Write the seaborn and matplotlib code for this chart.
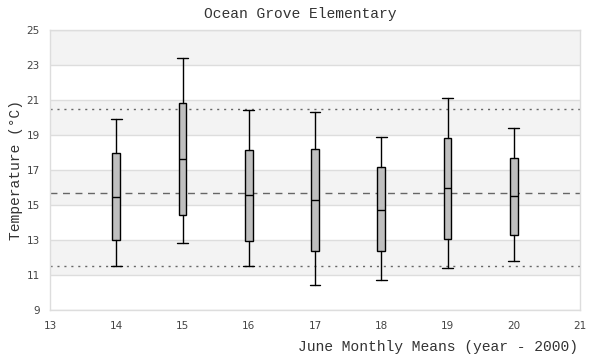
import matplotlib
matplotlib.use("Agg")
import matplotlib.pyplot as plt
import seaborn as sns

# datos
years = [14, 15, 16, 17, 18, 19, 20]
whisker_low = [11.5, 12.83, 11.5, 10.41, 10.7, 11.38, 11.78]
q1 = [13.0, 14.43, 12.94, 12.35, 12.35, 13.04, 13.27]
median = [15.46, 17.63, 15.57, 15.27, 14.73, 15.97, 15.51]
q3 = [17.97, 20.83, 18.14, 18.18, 17.15, 18.81, 17.67]
whisker_high = [19.9, 23.4, 20.43, 20.31, 18.87, 21.1, 19.38]
mean_line = 15.67
upper_line = 20.49
lower_line = 11.5

sns.set_theme(style="white")
plt.rcParams['font.family'] = ['DejaVu Sans']

fig = plt.figure(figsize=(6, 3.6), dpi=100)
ax = fig.add_axes([50 / 600, 50 / 360, 530 / 600, 280 / 360])

# bandas alternas
for lo in range(11, 25, 4):
    ax.axhspan(lo, lo + 2, color="#f3f3f3", zorder=0, lw=0)
for t in range(9, 26, 2):
    ax.axhline(t, color="#dddddd", lw=1, zorder=0.5)

stats = []
for i in range(len(years)):
    stats.append({"whislo": whisker_low[i], "q1": q1[i], "med": median[i],
                  "q3": q3[i], "whishi": whisker_high[i], "fliers": []})

ax.bxp(stats, positions=years, widths=0.12, patch_artist=True,
       showfliers=False, manage_ticks=False,
       boxprops=dict(facecolor="#bfbfbf", edgecolor="black", lw=1),
       medianprops=dict(color="black", lw=1),
       whiskerprops=dict(color="black", lw=1),
       capprops=dict(color="black", lw=1),
       capwidths=0.16, zorder=3)

ax.axhline(mean_line, color="#666666", ls=(0, (5, 4)), lw=1, zorder=2)
ax.axhline(upper_line, color="#666666", ls=(0, (1.5, 3.5)), lw=1, zorder=2)
ax.axhline(lower_line, color="#666666", ls=(0, (1.5, 3.5)), lw=1, zorder=2)

ax.set_xlim(13, 21)
ax.set_ylim(9, 25)
ax.set_xticks(range(13, 22))
ax.set_yticks(range(9, 26, 2))
ax.tick_params(axis="both", labelsize=7.5, labelcolor="#444444", length=0)
ax.tick_params(axis="y", pad=7.5)
ax.tick_params(axis="x", pad=8)
for s in ax.spines.values():
    s.set_color("#dddddd")
    s.set_linewidth(1)

mono = ["Liberation Mono", "DejaVu Sans Mono"]
fig.text(0.5, 1 - 14 / 360, "Ocean Grove Elementary", ha="center", va="center",
         fontsize=10.5, family=mono, color="#333333")
fig.text(578 / 600, 1 - 347 / 360, "June Monthly Means (year - 2000)", ha="right",
         va="center", fontsize=10.5, family=mono, color="#333333")
fig.text(16 / 600, 1 - 170 / 360, "Temperature (°C)", ha="center", va="center",
         rotation=90, fontsize=10.5, family=mono, color="#333333")

fig.savefig("out.png", dpi=100)
